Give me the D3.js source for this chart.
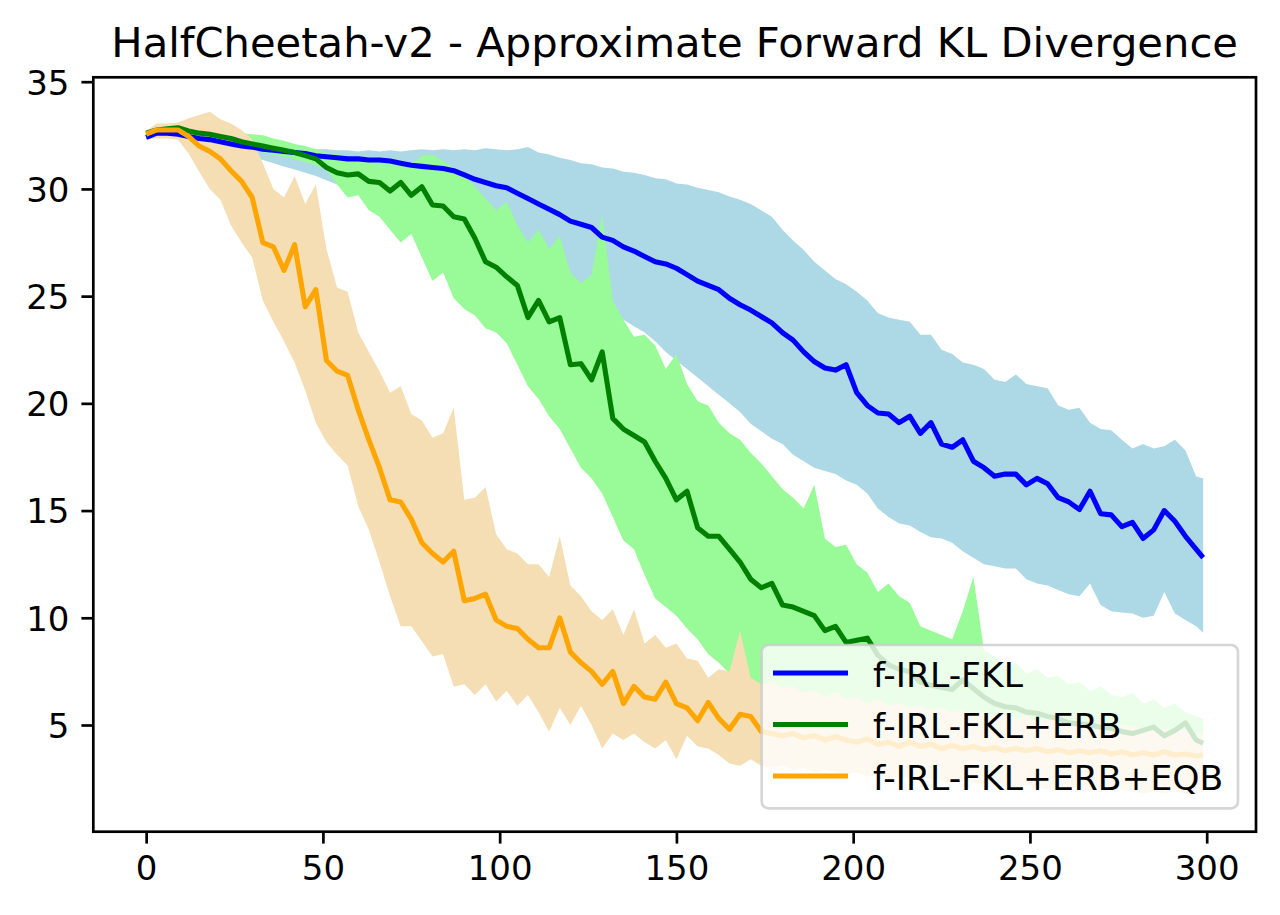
<!DOCTYPE html>
<html>
<head>
<meta charset="utf-8">
<script src="https://cdn.jsdelivr.net/npm/d3@7"></script>
<style>
  body { margin: 0; background: #fff; }
  svg { display: block; font-family: "DejaVu Sans", sans-serif; }
</style>
</head>
<body>
<svg id="chart" width="1280" height="915"></svg>
<script>
// epochs sampled every 3 steps, last point is 299
const epochs = d3.range(0, 298, 3).concat([299]);

const fklMean = [
  32.4, 32.6, 32.6, 32.55, 32.45, 32.35, 32.3, 32.2, 32.1, 32.0,
  31.95, 31.85, 31.8, 31.75, 31.7, 31.65, 31.55, 31.5, 31.45, 31.4,
  31.4, 31.35, 31.35, 31.3, 31.2, 31.1, 31.05, 31.0, 30.95, 30.85,
  30.65, 30.45, 30.3, 30.15, 30.05, 29.8, 29.55, 29.3, 29.05, 28.8,
  28.5, 28.35, 28.2, 27.75, 27.6, 27.3, 27.1, 26.85, 26.6, 26.5,
  26.3, 26.0, 25.7, 25.5, 25.3, 24.9, 24.6, 24.35, 24.05, 23.75,
  23.3, 22.95, 22.4, 21.95, 21.65, 21.55, 21.8, 20.5, 19.9, 19.55,
  19.5, 19.1, 19.4, 18.6, 19.1, 18.1, 17.95, 18.3, 17.3, 17.0,
  16.6, 16.7, 16.7, 16.2, 16.5, 16.25, 15.6, 15.4, 15.05, 15.9,
  14.85, 14.8, 14.25, 14.45, 13.7, 14.1, 15.0, 14.5, 13.8, 13.2, 12.8
];
const fklUpper = [
  32.6, 32.75, 32.8, 32.75, 32.65, 32.6, 32.5, 32.45, 32.35, 32.25,
  32.2, 32.1, 32.05, 32.0, 31.95, 31.9, 31.85, 31.85, 31.8, 31.8,
  31.75, 31.8, 31.75, 31.8, 31.75, 31.8, 31.85, 31.8, 31.85, 31.8,
  31.85, 31.8, 31.9, 31.85, 31.8, 31.85, 31.95, 31.7, 31.6, 31.45,
  31.35, 31.2, 31.15, 31.0, 30.95, 30.8, 30.75, 30.65, 30.5, 30.45,
  30.25, 30.2, 30.05, 29.95, 29.85, 29.65, 29.5, 29.3, 29.0, 28.7,
  28.1, 27.6, 27.15, 26.6, 26.2, 25.8, 25.55, 25.2, 24.8, 24.2,
  24.0, 23.9, 23.8, 23.2, 23.2, 22.5, 22.3, 21.9, 21.8, 21.6,
  21.1, 21.0, 21.35, 20.9, 20.8, 20.7, 19.9, 19.7, 19.8, 19.1,
  18.8, 18.75, 18.3, 17.9, 18.1, 17.9, 18.0, 18.3, 17.8, 16.6, 16.5
];
const fklLower = [
  32.3, 32.4, 32.4, 32.35, 32.25, 32.1, 32.0, 31.9, 31.75, 31.6,
  31.5, 31.35, 31.2, 31.05, 30.9, 30.75, 30.6, 30.4, 30.2, 30.0,
  29.8, 29.55, 29.3, 29.05, 28.8, 28.55, 28.3, 28.05, 27.8, 27.55,
  27.3, 27.05, 26.8, 26.55, 26.3, 26.05, 25.8, 25.55, 25.3, 25.05,
  24.85, 24.65, 24.5, 24.3, 24.1, 23.9, 23.6, 23.3, 22.9, 22.4,
  22.0, 21.6, 21.2, 20.8, 20.4, 20.0, 19.6, 19.05, 18.7, 18.35,
  18.1, 17.6, 17.3, 17.0, 16.85, 16.7, 16.4, 16.2, 15.8, 15.1,
  14.7, 14.4, 14.3, 14.0, 13.75, 13.7, 13.5, 13.1, 12.8, 12.5,
  12.4, 12.3, 12.3, 11.8, 11.6, 11.5, 11.3, 11.1, 11.0, 11.6,
  10.6, 10.3, 10.25, 10.2, 10.0, 10.1, 11.2, 10.2, 9.9, 9.6, 9.3
];

const erbMean = [
  32.6, 32.75, 32.8, 32.85, 32.7, 32.6, 32.55, 32.45, 32.35, 32.2,
  32.1, 32.0, 31.9, 31.8, 31.7, 31.55, 31.4, 31.0, 30.75, 30.65,
  30.7, 30.35, 30.3, 29.9, 30.3, 29.7, 30.1, 29.25, 29.2, 28.7,
  28.6, 27.7, 26.6, 26.35, 25.9, 25.5, 24.0, 24.8, 23.8, 24.0,
  21.8, 21.85, 21.1, 22.4, 19.3, 18.8, 18.5, 18.2, 17.3, 16.5,
  15.5, 15.9, 14.2, 13.8, 13.8, 13.2, 12.6, 11.8, 11.4, 11.6,
  10.6, 10.5, 10.3, 10.1, 9.4, 9.6, 8.85, 8.95, 9.05, 8.25,
  7.8, 7.6, 7.5, 7.0, 6.85, 6.75, 6.65, 7.1, 6.7, 6.3,
  6.0, 5.85, 5.8, 5.6, 5.55, 5.4, 5.3, 5.1, 5.05, 5.0,
  4.9, 4.85, 4.7, 4.6, 4.75, 4.9, 4.5, 4.75, 5.1, 4.3, 4.15
];
const erbUpper = [
  32.7, 32.9, 33.0, 33.0, 32.9, 32.85, 32.8, 32.75, 32.7, 32.6,
  32.55, 32.5, 32.35, 32.25, 32.1, 32.0, 31.85, 31.7, 31.6, 31.5,
  31.45, 31.4, 31.35, 31.3, 31.2, 31.1, 31.55, 31.6, 31.3, 30.95,
  30.7, 30.1, 29.55, 29.0, 29.4, 28.3, 27.5, 28.1, 27.2, 27.8,
  26.1, 25.6, 26.0, 28.8, 24.8, 23.9, 23.1, 23.2, 22.7, 21.6,
  22.3, 20.9, 20.1, 19.9, 19.1, 18.6, 18.3, 17.7, 17.2, 16.6,
  16.0, 15.6, 15.1, 16.2, 13.7, 13.3, 13.4, 12.5, 12.1, 11.2,
  11.6, 11.0, 10.7, 9.6, 9.4, 9.2, 9.0, 10.3, 11.9, 8.5,
  8.2, 7.8, 7.9, 7.4, 7.6, 7.2, 7.3, 6.9, 7.0, 6.6,
  6.8, 6.4, 6.3, 6.5, 6.0, 6.2, 5.8, 6.0, 5.6, 5.4, 5.3
];
const erbLower = [
  32.5, 32.6, 32.6, 32.6, 32.5, 32.4, 32.3, 32.2, 32.0, 31.9,
  31.8, 31.7, 31.6, 31.5, 31.4, 31.25, 31.1, 30.9, 30.2, 29.6,
  29.7, 29.0, 28.7, 28.1, 27.5, 27.9, 26.8, 25.7, 26.1, 24.9,
  24.4, 24.1, 23.5, 23.3, 22.8, 21.8, 20.8, 20.2, 19.4, 18.8,
  17.9, 17.0, 16.5, 15.8, 14.7, 13.6, 13.2, 12.0, 10.9, 10.5,
  10.1, 9.5, 9.0, 8.3, 7.9, 7.4, 7.2, 6.8, 6.4, 6.1,
  5.8, 5.5, 5.3, 5.1, 4.9, 4.8, 4.6, 4.5, 4.4, 4.3,
  4.2, 4.1, 4.05, 4.0, 3.95, 3.9, 3.85, 3.8, 3.75, 3.7,
  3.65, 3.6, 3.6, 3.55, 3.5, 3.5, 3.45, 3.4, 3.4, 3.35,
  3.35, 3.3, 3.3, 3.3, 3.25, 3.25, 3.2, 3.2, 3.2, 3.15, 3.15
];

const eqbMean = [
  32.55, 32.75, 32.75, 32.75, 32.45, 32.0, 31.75, 31.4, 30.85, 30.35,
  29.6, 27.5, 27.3, 26.2, 27.4, 24.5, 25.3, 22.0, 21.5, 21.3,
  19.7, 18.3, 17.0, 15.5, 15.4, 14.6, 13.5, 13.0, 12.6, 13.1,
  10.8, 10.9, 11.1, 9.9, 9.6, 9.5, 9.0, 8.6, 8.6, 10.0,
  8.4, 7.9, 7.5, 6.9, 7.5, 6.0, 6.8, 6.3, 6.2, 7.0,
  6.0, 5.8, 5.2, 6.05, 5.3, 4.8, 5.5, 5.4, 4.7, 4.6,
  4.5, 4.6, 4.4, 4.5, 4.3, 4.45, 4.3, 4.2, 4.35, 4.1,
  4.2, 4.0, 4.2, 4.0, 4.1, 3.9, 4.05, 3.9, 4.0, 3.85,
  3.95, 3.8, 3.9, 3.8, 3.9, 3.75, 3.85, 3.7, 3.8, 3.7,
  3.8, 3.65, 3.75, 3.6, 3.7, 3.6, 3.75, 3.6, 3.65, 3.55, 3.6
];
const eqbUpper = [
  32.7, 33.05, 33.05, 33.1, 33.3, 33.45, 33.6, 33.25, 33.05, 32.75,
  32.3, 31.2, 30.0, 29.6, 30.6, 29.3, 30.2, 27.2, 25.4, 25.2,
  23.3, 22.4, 21.5, 20.5, 20.8, 19.5, 19.2, 18.4, 18.6, 19.8,
  15.5, 15.6, 16.1, 13.9, 13.2, 13.0, 12.5, 12.5, 11.9, 13.8,
  11.5, 11.0, 10.3, 9.9, 10.4, 9.2, 10.4, 8.8, 9.2, 8.6,
  8.8, 8.1, 8.0, 7.2, 7.6, 7.5, 9.4, 7.2, 6.9, 7.0,
  6.7, 6.8, 6.5, 6.6, 6.3, 6.5, 6.2, 6.3, 6.0, 6.2,
  5.9, 6.0, 5.8, 5.9, 5.7, 5.8, 5.6, 5.7, 5.5, 5.6,
  5.4, 5.5, 5.3, 5.4, 5.2, 5.3, 5.2, 5.1, 5.2, 5.0,
  5.1, 4.9, 5.0, 4.9, 4.8, 4.9, 4.8, 4.7, 4.8, 4.6, 4.6
];
const eqbLower = [
  32.35, 32.35, 32.35, 32.3, 31.65, 30.8, 30.0, 29.5, 28.3, 27.5,
  26.8, 24.8, 23.8, 22.9, 21.9, 20.6, 19.1, 18.2, 17.6, 17.1,
  15.2, 14.1, 12.6, 11.0, 9.6, 9.6, 8.9, 8.2, 8.3, 6.8,
  6.9, 6.4, 6.9, 6.1, 6.6, 5.9, 6.4, 5.6, 4.7, 5.8,
  5.0, 5.9, 5.0, 3.9, 4.6, 4.3, 4.6, 4.2, 3.9, 4.3,
  3.4, 4.5, 4.0, 3.9, 3.6, 3.2, 3.1, 3.4, 3.1, 3.0,
  3.1, 2.9, 3.0, 2.8, 2.9, 2.8, 2.7, 2.8, 2.6, 2.7,
  2.5, 2.6, 2.5, 2.4, 2.5, 2.4, 2.3, 2.4, 2.3, 2.2,
  2.3, 2.2, 2.1, 2.2, 2.1, 2.0, 2.1, 2.0, 2.1, 1.9,
  2.0, 1.9, 2.0, 1.9, 1.8, 1.9, 1.8, 1.9, 1.8, 1.9, 1.9
];

const seriesNames = ["f-IRL-FKL", "f-IRL-FKL+ERB", "f-IRL-FKL+ERB+EQB"];
const xTicks = [0, 50, 100, 150, 200, 250, 300];
const yTicks = [5, 10, 15, 20, 25, 30, 35];

const series = [
  { name: seriesNames[0], mean: fklMean, lo: fklLower, hi: fklUpper, line: "#0000ff", band: "#add8e6" },
  { name: seriesNames[1], mean: erbMean, lo: erbLower, hi: erbUpper, line: "#008000", band: "#98fb98" },
  { name: seriesNames[2], mean: eqbMean, lo: eqbLower, hi: eqbUpper, line: "#ffa500", band: "#f5deb3" }
];

const box = { left: 93.3, right: 1256, top: 77.3, bottom: 831.7 };
const fontSize = 34;

const svg = d3.select("#chart");

const x = d3.scaleLinear().domain([-14.95, 313.95]).range([box.left, box.right]);
const y = d3.scaleLinear().domain([0.024, 35.205]).range([box.bottom, box.top]);

const area = s => d3.area()
  .x((d, i) => x(epochs[i]))
  .y0((d, i) => y(s.lo[i]))
  .y1((d, i) => y(s.hi[i]));

const line = s => d3.line()
  .x((d, i) => x(epochs[i]))
  .y((d, i) => y(s.mean[i]));

const plot = svg.append("g");

// bands first, then the mean lines on top
series.forEach(s => {
  plot.append("path")
    .attr("d", area(s)(epochs))
    .attr("fill", s.band)
    .attr("stroke", "none");
});
series.forEach(s => {
  plot.append("path")
    .attr("d", line(s)(epochs))
    .attr("fill", "none")
    .attr("stroke", s.line)
    .attr("stroke-width", 5.1)
    .attr("stroke-linejoin", "round")
    .attr("stroke-linecap", "butt");
});

// axes
const xAxis = svg.append("g")
  .attr("transform", "translate(0," + box.bottom + ")")
  .call(d3.axisBottom(x).tickValues(xTicks).tickSize(11.9).tickPadding(11.9).tickSizeOuter(0));
const yAxis = svg.append("g")
  .attr("transform", "translate(" + box.left + ",0)")
  .call(d3.axisLeft(y).tickValues(yTicks).tickSize(11.9).tickPadding(11.9).tickSizeOuter(0));

[xAxis, yAxis].forEach(g => {
  g.select(".domain").remove();
  g.selectAll(".tick line").attr("stroke", "#000").attr("stroke-width", 2.7);
  g.selectAll(".tick text")
    .attr("fill", "#000")
    .style("font-size", fontSize + "px")
    .style("font-family", "'DejaVu Sans', sans-serif");
});
yAxis.selectAll(".tick text").attr("dy", "0.365em");

// frame
svg.append("rect")
  .attr("x", box.left).attr("y", box.top)
  .attr("width", box.right - box.left).attr("height", box.bottom - box.top)
  .attr("fill", "none")
  .attr("stroke", "#000")
  .attr("stroke-width", 2.7);

// title
svg.append("text")
  .attr("x", (box.left + box.right) / 2)
  .attr("y", 56.9)
  .attr("text-anchor", "middle")
  .style("font-size", "41.7px")
  .text("HalfCheetah-v2 - Approximate Forward KL Divergence");

// legend
const legend = svg.append("g");
legend.append("rect")
  .attr("x", 761.7).attr("y", 645)
  .attr("width", 1238 - 761.7).attr("height", 808.3 - 645)
  .attr("rx", 6.8).attr("ry", 6.8)
  .attr("fill", "#fff").attr("fill-opacity", 0.8)
  .attr("stroke", "#cccccc").attr("stroke-opacity", 0.8)
  .attr("stroke-width", 2.7);

const rowY = d3.scalePoint().domain(seriesNames).range([673, 776]);
series.forEach(s => {
  const cy = rowY(s.name);
  legend.append("line")
    .attr("x1", 773).attr("x2", 848)
    .attr("y1", cy).attr("y2", cy)
    .attr("stroke", s.line).attr("stroke-width", 5.1);
  legend.append("text")
    .attr("x", 873).attr("y", cy + 13.5)
    .style("font-size", "34.6px")
    .text(s.name);
});
</script>
</body>
</html>
